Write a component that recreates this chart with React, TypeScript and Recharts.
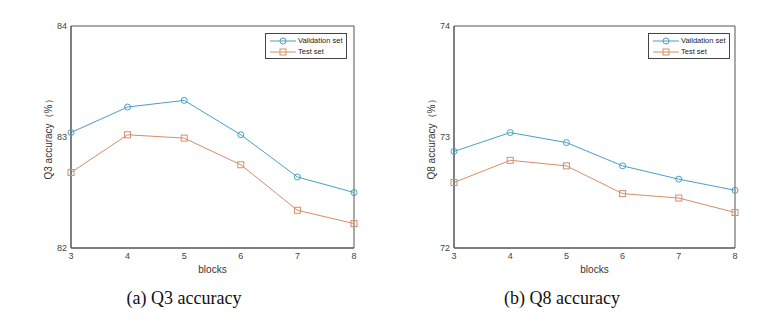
import React from "react";
import { LineChart, Line, XAxis, YAxis, ReferenceArea } from "recharts";

const blocks = [3, 4, 5, 6, 7, 8];
const q3Validation = [83.04, 83.27, 83.33, 83.02, 82.64, 82.5];
const q3Test = [82.68, 83.02, 82.99, 82.75, 82.34, 82.22];
const q8Validation = [72.87, 73.04, 72.95, 72.74, 72.62, 72.52];
const q8Test = [72.59, 72.79, 72.74, 72.49, 72.45, 72.32];
const q3Ticks = [82, 83, 84];
const q8Ticks = [72, 73, 74];

const VAL_COLOR = "#4a9fc6";
const TEST_COLOR = "#d98d64";
const AXIS_COLOR = "#555";
const FONT = "Arial, 'Liberation Sans', sans-serif";

const SquareDot = (props: any) => {
  const { cx, cy } = props;
  if (cx == null || cy == null) return null;
  return (
    <rect
      x={cx - 3}
      y={cy - 3}
      width={6}
      height={6}
      fill="none"
      stroke={TEST_COLOR}
      strokeWidth={1}
    />
  );
};

const LegendBox = ({ left, top }: { left: number; top: number }) => (
  <div
    style={{
      position: "absolute",
      left,
      top,
      border: "1px solid #444",
      background: "#fff",
      width: 80,
      height: 22,
      padding: "1px 0",
      fontFamily: FONT,
      fontSize: 7.5,
      color: "#222",
      whiteSpace: "nowrap",
    }}
  >
    {[
      { name: "Vaildation set", color: VAL_COLOR, square: false },
      { name: "Test set", color: TEST_COLOR, square: true },
    ].map((item) => (
      <div
        key={item.name}
        style={{ display: "flex", alignItems: "center", height: 11 }}
      >
        <svg width={28} height={10} style={{ marginLeft: 3, flexShrink: 0 }}>
          <line x1={1} y1={5} x2={27} y2={5} stroke={item.color} />
          {item.square ? (
            <rect x={11} y={2} width={6} height={6} fill="none" stroke={item.color} />
          ) : (
            <circle cx={14} cy={5} r={3} fill="none" stroke={item.color} />
          )}
        </svg>
        <span style={{ marginLeft: 1 }}>{item.name}</span>
      </div>
    ))}
  </div>
);

interface PanelProps {
  left: number;
  marginRight: number;
  validation: number[];
  test: number[];
  ticks: number[];
  yLabel: string;
  caption: string;
  captionX: number;
  legendLeft: number;
}

function Panel({
  left,
  marginRight,
  validation,
  test,
  ticks,
  yLabel,
  caption,
  captionX,
  legendLeft,
}: PanelProps) {
  const data = blocks.map((b, i) => ({
    block: b,
    validation: validation[i],
    test: test[i],
  }));
  const domain = [ticks[0], ticks[ticks.length - 1]];
  return (
    <>
      <div style={{ position: "absolute", left, top: 0, width: 380, height: 300 }}>
        <LineChart
          width={380}
          height={300}
          data={data}
          margin={{ top: 26, right: marginRight, bottom: 12, left: 0 }}
        >
          <XAxis
            dataKey="block"
            type="number"
            domain={[3, 8]}
            ticks={blocks}
            height={40}
            axisLine={{ stroke: AXIS_COLOR }}
            tickLine={false}
            tickSize={0}
            tickMargin={5}
            tick={{ fontSize: 9, fill: "#444", fontFamily: FONT }}
            label={{
              value: "blocks",
              position: "center",
              dy: 1,
              fontSize: 10,
              fill: "#333",
              fontFamily: FONT,
            }}
          />
          <YAxis
            type="number"
            domain={domain}
            ticks={ticks}
            width={71}
            axisLine={{ stroke: AXIS_COLOR }}
            tickLine={false}
            tickSize={0}
            tickMargin={4}
            tick={{ fontSize: 9, fill: "#444", fontFamily: FONT }}
            label={{
              value: yLabel,
              angle: -90,
              position: "center",
              dx: 13,
              fontSize: 10,
              fill: "#333",
              fontFamily: FONT,
            }}
          />
          <ReferenceArea
            x1={3}
            x2={8}
            y1={domain[0]}
            y2={domain[1]}
            fill="none"
            stroke={AXIS_COLOR}
            strokeWidth={1}
          />
          <Line
            type="linear"
            dataKey="validation"
            stroke={VAL_COLOR}
            strokeWidth={1}
            dot={{ r: 3, fill: "none", stroke: VAL_COLOR, strokeWidth: 1 }}
            isAnimationActive={false}
          />
          <Line
            type="linear"
            dataKey="test"
            stroke={TEST_COLOR}
            strokeWidth={1}
            dot={<SquareDot />}
            isAnimationActive={false}
          />
        </LineChart>
        <LegendBox left={legendLeft} top={33} />
      </div>
      <div
        style={{
          position: "absolute",
          left: captionX - 100,
          width: 200,
          top: 288,
          textAlign: "center",
          fontFamily: "'Liberation Serif', 'Times New Roman', serif",
          fontSize: 18,
          color: "#111",
        }}
      >
        {caption}
      </div>
    </>
  );
}

export default function App() {
  return (
    <div
      style={{
        position: "absolute",
        left: 0,
        top: 0,
        width: 782,
        height: 321,
        background: "#fff",
      }}
    >
      <Panel
        left={0}
        marginRight={26}
        validation={q3Validation}
        test={q3Test}
        ticks={q3Ticks}
        yLabel="Q3 accuracy（%）"
        caption="(a) Q3 accuracy"
        captionX={184}
        legendLeft={265}
      />
      <Panel
        left={383}
        marginRight={28}
        validation={q8Validation}
        test={q8Test}
        ticks={q8Ticks}
        yLabel="Q8 accuracy（%）"
        caption="(b) Q8 accuracy"
        captionX={562}
        legendLeft={265}
      />
    </div>
  );
}
